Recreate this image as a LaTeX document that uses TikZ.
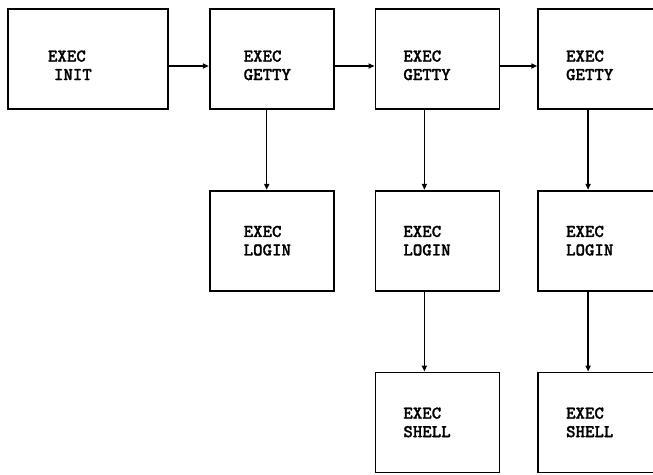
\documentclass[tikz,border=0pt]{standalone}
\usepackage{fontspec}
\newfontfamily\dotfont[FakeBold=1.2]{lmmonolt10-bold.otf}
\usepackage{tikz}
\usetikzlibrary{arrows.meta,positioning}
\tikzset{
  procbox/.style={draw, line width=1.7pt, minimum height=100pt, inner ysep=0pt,
    inner xsep=28pt, text width=66pt, align=left,
    font=\dotfont\fontsize{18}{18.5}\selectfont},
  midbox/.style={procbox, inner xsep=34pt, text width=56pt},
  widebox/.style={procbox, inner xsep=40pt, text width=80pt},
  lowtext/.style={text depth=6pt},
  flowln/.style={-{Triangle[length=6pt,width=5pt]}, line width=1.5pt},
}

\begin{document}
\begin{tikzpicture}[x=1pt, y=1pt]
      \useasboundingbox (0,0) rectangle (653,-474);
      % top row: init spawns one getty per line
      \node[widebox, lowtext] (init) at (88,-59) {EXEC\\\ INIT};
      \node[midbox, lowtext, right=40pt of init] (getA) {EXEC\\GETTY};
      \node[procbox, lowtext, right=40pt of getA, minimum width=124pt, text width=68pt] (getB) {EXEC\\GETTY};
      \node[procbox, lowtext, right=37pt of getB] (getC) {EXEC\\GETTY};
      % each getty execs login
      \node[midbox, below=80pt of getA] (logA) {EXEC\\LOGIN};
      \node[procbox, below=80pt of getB, text width=68pt] (logB) {EXEC\\LOGIN};
      \node[procbox, below=80pt of getC] (logC) {EXEC\\LOGIN};
      % login execs the shell
      \node[procbox, below=80pt of logB, text width=68pt] (shB) {EXEC\\SHELL};
      \node[procbox, below=80pt of logC] (shC) {EXEC\\SHELL};
      % connectors
      \draw[flowln] ([yshift=-7pt]init.east) -- ([yshift=-7pt]getA.west);
      \draw[flowln] ([yshift=-7pt]getA.east) -- ([yshift=-7pt]getB.west);
      \draw[flowln] ([yshift=-7pt]getB.east) -- ([yshift=-7pt]getC.west);
      \draw[flowln] ([xshift=-5pt]getA.south) -- ([xshift=-5pt]logA.north);
      \draw[flowln] ([xshift=-13pt]getB.south) -- ([xshift=-13pt]logB.north);
      \draw[flowln] ([xshift=-13pt]logB.south) -- ([xshift=-13pt]shB.north);
      \draw[flowln] ([xshift=-11pt]getC.south) -- ([xshift=-11pt]logC.north);
      \draw[flowln] ([xshift=-11pt]logC.south) -- ([xshift=-11pt]shC.north);
    \end{tikzpicture}
\end{document}
